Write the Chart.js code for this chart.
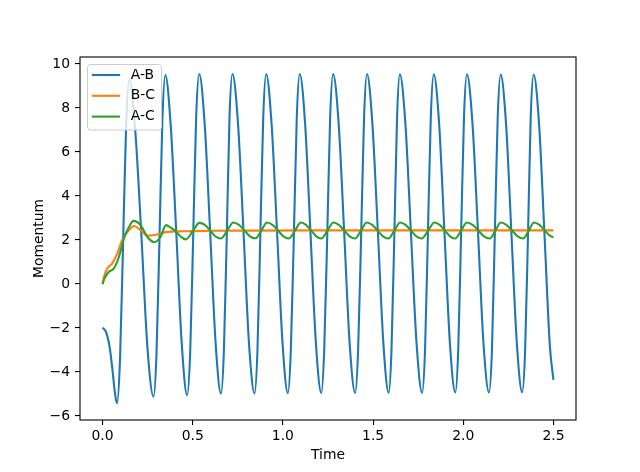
<!DOCTYPE html>
<html>
<head>
<meta charset="utf-8">
<script src="https://cdn.jsdelivr.net/npm/chart.js@4.4.0/dist/chart.umd.min.js"></script>
<style>
  html, body { margin: 0; padding: 0; background: #fff; }
  #wrap { width: 640px; height: 472px; }
</style>
</head>
<body>
<div id="wrap"><canvas id="myChart" width="640" height="472"></canvas></div>
<script>
// values
const timeAB = [
    0, 0.02, 0.04, 0.055, 0.068, 0.080,
    0.097, 0.114, 0.131, 0.148,
    0.182, 0.216, 0.249, 0.283,
    0.299, 0.316, 0.332, 0.348,
    0.378, 0.409, 0.439, 0.469,
    0.486, 0.503, 0.519, 0.536,
    0.566, 0.597, 0.627, 0.657,
    0.673, 0.689, 0.704, 0.720,
    0.751, 0.782, 0.812, 0.843,
    0.859, 0.875, 0.891, 0.907,
    0.937, 0.968, 0.998, 1.028,
    1.044, 1.061, 1.077, 1.093,
    1.123, 1.153, 1.183, 1.213,
    1.229, 1.246, 1.262, 1.278,
    1.309, 1.340, 1.370, 1.401,
    1.417, 1.434, 1.450, 1.466,
    1.496, 1.527, 1.557, 1.587,
    1.602, 1.618, 1.633, 1.648,
    1.679, 1.710, 1.741, 1.772,
    1.788, 1.804, 1.820, 1.836,
    1.866, 1.896, 1.926, 1.956,
    1.972, 1.988, 2.004, 2.020,
    2.051, 2.082, 2.112, 2.143,
    2.159, 2.175, 2.191, 2.207,
    2.237, 2.267, 2.297, 2.327,
    2.343, 2.359, 2.374, 2.390,
    2.420, 2.450, 2.480, 2.500
];
const momentumAB = [
    -1.98, -2.2, -2.9, -3.9, -4.9, -5.42,
    -3.4, 1.9, 7.3, 9.27,
    6.9, 2.1, -2.9, -5.12,
    -3.2, 2.2, 7.5, 9.50,
    7.2, 2.3, -2.7, -5.05,
    -3.1, 2.3, 7.6, 9.55,
    7.3, 2.3, -2.7, -4.98,
    -3.0, 2.3, 7.6, 9.55,
    7.3, 2.3, -2.7, -4.97,
    -3.0, 2.3, 7.6, 9.55,
    7.3, 2.3, -2.7, -4.96,
    -3.0, 2.3, 7.6, 9.55,
    7.3, 2.3, -2.7, -4.95,
    -3.0, 2.3, 7.6, 9.55,
    7.3, 2.3, -2.7, -4.95,
    -3.0, 2.3, 7.6, 9.55,
    7.3, 2.3, -2.7, -4.94,
    -3.0, 2.3, 7.6, 9.53,
    7.3, 2.3, -2.7, -4.94,
    -3.0, 2.3, 7.6, 9.53,
    7.3, 2.3, -2.7, -4.93,
    -3.0, 2.3, 7.6, 9.53,
    7.3, 2.3, -2.7, -4.93,
    -3.0, 2.3, 7.6, 9.52,
    7.3, 2.3, -2.7, -4.92,
    -3.0, 2.3, 7.6, 9.52,
    7.3, 2.3, -2.8, -4.36
];

const timeBC = [0, 0.008, 0.026, 0.054, 0.082, 0.109, 0.147, 0.174, 0.211, 0.248, 0.295, 0.35, 0.45, 0.6, 0.8, 1.2, 1.8, 2.5];
const momentumBC = [0, 0.33, 0.71, 0.94, 1.39, 2.0, 2.45, 2.64, 2.45, 2.2, 2.24, 2.36, 2.40, 2.42, 2.43, 2.44, 2.44, 2.44];

const timeAC = [
    0, 0.011, 0.035, 0.063, 0.091, 0.119, 0.147, 0.172, 0.211, 0.248, 0.287, 0.322, 0.352,
    0.380, 0.407, 0.435, 0.462,
    0.500, 0.537,
    0.567, 0.597, 0.627, 0.657,
    0.691, 0.725,
    0.756, 0.787, 0.817, 0.848,
    0.880, 0.912,
    0.942, 0.973, 1.003, 1.033,
    1.067, 1.100,
    1.128, 1.157, 1.185, 1.213,
    1.247, 1.280,
    1.310, 1.340, 1.370, 1.400,
    1.433, 1.465,
    1.495, 1.525, 1.555, 1.585,
    1.618, 1.650,
    1.680, 1.710, 1.740, 1.770,
    1.805, 1.840,
    1.869, 1.898, 1.926, 1.955,
    1.988, 2.020,
    2.052, 2.084, 2.115, 2.147,
    2.178, 2.208,
    2.239, 2.270, 2.302, 2.333,
    2.363, 2.392,
    2.422, 2.452, 2.480, 2.500
];
const momentumAC = [
    0, 0.26, 0.56, 0.71, 1.24, 2.08, 2.6, 2.87, 2.68, 2.15, 1.9, 2.15, 2.68,
    2.55, 2.38, 2.15, 2.03,
    2.40, 2.78,
    2.69, 2.43, 2.16, 2.07,
    2.43, 2.80,
    2.69, 2.43, 2.17, 2.08,
    2.43, 2.80,
    2.69, 2.43, 2.17, 2.07,
    2.43, 2.80,
    2.69, 2.43, 2.17, 2.07,
    2.43, 2.80,
    2.69, 2.43, 2.17, 2.07,
    2.43, 2.80,
    2.69, 2.43, 2.17, 2.07,
    2.43, 2.80,
    2.69, 2.43, 2.17, 2.07,
    2.43, 2.80,
    2.69, 2.43, 2.17, 2.07,
    2.43, 2.80,
    2.69, 2.43, 2.17, 2.07,
    2.43, 2.80,
    2.69, 2.43, 2.17, 2.07,
    2.43, 2.80,
    2.69, 2.43, 2.20, 2.12
];

const seriesLabels = ['A-B', 'B-C', 'A-C'];
const seriesColors = ['#1f77b4', '#ff7f0e', '#2ca02c'];
const xTicks = [0, 0.5, 1.0, 1.5, 2.0, 2.5];
const yTicks = [-6, -4, -2, 0, 2, 4, 6, 8, 10];

const baseFont = { family: 'DejaVu Sans', size: 13.9 };

function pairUp(xs, ys) {
    return xs.map((x, i) => ({ x: x, y: ys[i] }));
}

// frame on all four sides + matplotlib-like legend on top of the lines
Chart.register({
    id: 'framePlugin',
    afterDatasetsDraw: function(chart) {
        const ctx = chart.ctx;
        const a = chart.chartArea;
        ctx.save();
        ctx.strokeStyle = '#000';
        ctx.lineWidth = 1.1;
        ctx.strokeRect(a.left, a.top, a.right - a.left, a.bottom - a.top);

        // legend box
        const x0 = a.left + 7.5, y0 = a.top + 7.5, w = 74, h = 65.5, r = 3;
        ctx.beginPath();
        ctx.moveTo(x0 + r, y0);
        ctx.arcTo(x0 + w, y0, x0 + w, y0 + h, r);
        ctx.arcTo(x0 + w, y0 + h, x0, y0 + h, r);
        ctx.arcTo(x0, y0 + h, x0, y0, r);
        ctx.arcTo(x0, y0, x0 + w, y0, r);
        ctx.closePath();
        ctx.fillStyle = 'rgba(255,255,255,0.8)';
        ctx.fill();
        ctx.strokeStyle = '#cccccc';
        ctx.lineWidth = 1;
        ctx.stroke();

        ctx.font = baseFont.size + 'px "' + baseFont.family + '"';
        ctx.textBaseline = 'middle';
        ctx.textAlign = 'left';
        chart.data.datasets.forEach(function(ds, i) {
            const rowY = y0 + 10.5 + i * 20.8;
            ctx.strokeStyle = ds.borderColor;
            ctx.lineWidth = 2.1;
            ctx.beginPath();
            ctx.moveTo(x0 + 4.3, rowY);
            ctx.lineTo(x0 + 32.5, rowY);
            ctx.stroke();
            ctx.fillStyle = '#000';
            ctx.fillText(ds.label, x0 + 43.3, rowY);
        });
        ctx.restore();
    }
});

const ctx = document.getElementById('myChart').getContext('2d');

const myChart = new Chart(ctx, {
    type: 'line',
    data: {
        datasets: [
            { label: seriesLabels[0], data: pairUp(timeAB, momentumAB), borderColor: seriesColors[0], order: 3 },
            { label: seriesLabels[1], data: pairUp(timeBC, momentumBC), borderColor: seriesColors[1], order: 2 },
            { label: seriesLabels[2], data: pairUp(timeAC, momentumAC), borderColor: seriesColors[2], order: 1 }
        ]
    },
    options: {
        responsive: false,
        animation: false,
        layout: { padding: { top: 57, right: 64, left: 0, bottom: 0 } },
        elements: {
            line: { borderWidth: 2.1, cubicInterpolationMode: 'monotone', fill: false },
            point: { radius: 0, hitRadius: 0 }
        },
        plugins: {
            legend: { display: false },
            tooltip: { enabled: false },
            framePlugin: {}
        },
        scales: {
            x: {
                type: 'linear',
                min: -0.125,
                max: 2.625,
                afterFit: function(scale) { scale.height = 52; },
                afterBuildTicks: function(scale) {
                    scale.ticks = xTicks.map(v => ({ value: v }));
                },
                ticks: {
                    font: baseFont,
                    color: '#000',
                    padding: 3.5,
                    autoSkip: false,
                    maxRotation: 0,
                    callback: function(value) { return value.toFixed(1); }
                },
                grid: { drawOnChartArea: false, drawTicks: true, tickLength: 5, color: '#000', lineWidth: 1.1 },
                border: { display: false },
                title: { display: true, text: 'Time', font: baseFont, color: '#000', padding: { top: 0, bottom: 8.7 } }
            },
            y: {
                type: 'linear',
                min: -6.18,
                max: 10.32,
                afterFit: function(scale) { scale.width = 80; },
                afterBuildTicks: function(scale) {
                    scale.ticks = yTicks.map(v => ({ value: v }));
                },
                ticks: {
                    font: baseFont,
                    color: '#000',
                    padding: 5,
                    autoSkip: false,
                    callback: function(value) {
                        return value < 0 ? '\u2212' + Math.abs(value) : String(value);
                    }
                },
                grid: { drawOnChartArea: false, drawTicks: true, tickLength: 5, color: '#000', lineWidth: 1.1 },
                border: { display: false },
                title: { display: true, text: 'Momentum', font: baseFont, color: '#000', padding: { top: 30.7, bottom: 0 } }
            }
        }
    }
});
</script>
</body>
</html>
